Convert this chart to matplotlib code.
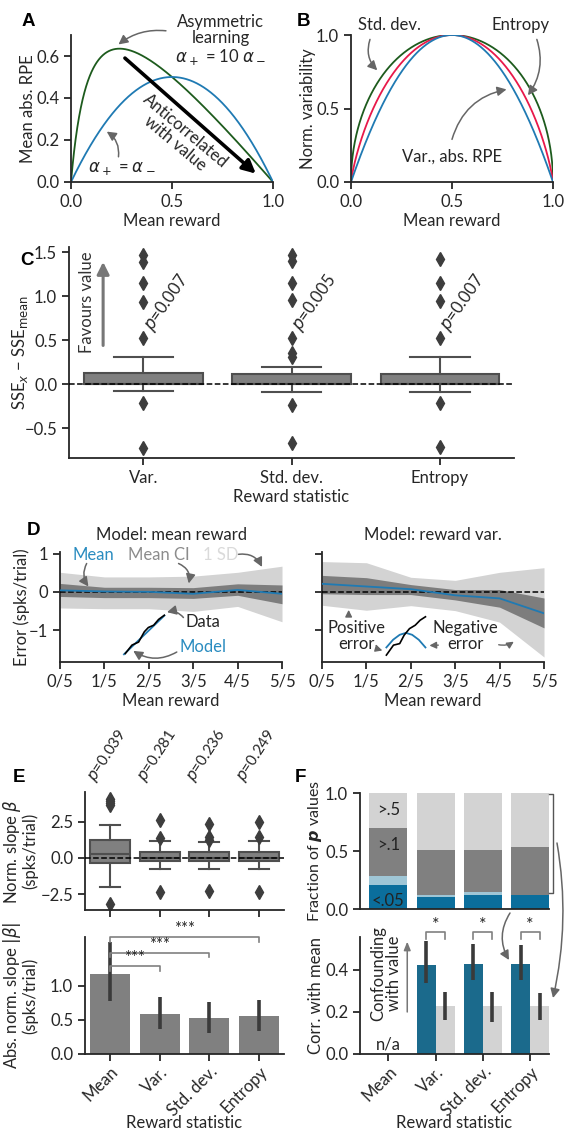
import numpy as np
import matplotlib
matplotlib.use("Agg")
import matplotlib.pyplot as plt
from matplotlib.patches import FancyArrowPatch

# ---------------------------------------------------------------- data
# A/B: Bernoulli reward model
reward_grid = np.linspace(0.0, 1.0, 801)
asym_ratio = 10.0  # alpha_plus / alpha_minus for the asymmetric learner

# C: SSE difference per reward statistic (box summaries)
c_labels = ["Var.", "Std. dev.", "Entropy"]
c_q1 = [0.0, 0.0, 0.0]
c_med = [0.0, 0.0, 0.0]
c_q3 = [0.13, 0.12, 0.12]
c_whislo = [-0.076, -0.087, -0.087]
c_whishi = [0.31, 0.20, 0.31]
c_fliers = [[1.47, 1.39, 1.15, 0.93, 0.52, -0.21, -0.73],
            [1.47, 1.40, 1.15, 0.96, 0.53, 0.35, 0.31, -0.24, -0.67],
            [1.42, 1.15, 0.95, 0.53, -0.22, -0.71]]
c_pvals = ["0.007", "0.005", "0.007"]

# D: prediction error vs mean reward
d_ticks = ["0/5", "1/5", "2/5", "3/5", "4/5", "5/5"]
dm_mean = [0.04, 0.01, 0.0, -0.05, 0.05, -0.05]
dm_ci_lo = [-0.12, -0.15, -0.15, -0.17, -0.09, -0.31]
dm_ci_hi = [0.22, 0.12, 0.12, 0.11, 0.21, 0.18]
dm_sd_lo = [-0.42, -0.44, -0.44, -0.51, -0.38, -0.78]
dm_sd_hi = [0.51, 0.39, 0.39, 0.41, 0.51, 0.67]

dv_mean = [0.21, 0.14, 0.07, -0.09, -0.17, -0.56]
dv_ci_lo = [-0.05, -0.07, -0.07, -0.21, -0.40, -0.94]
dv_ci_hi = [0.43, 0.37, 0.19, 0.06, 0.06, -0.16]
dv_sd_lo = [-0.35, -0.48, -0.36, -0.49, -0.79, -1.70]
dv_sd_hi = [0.79, 0.76, 0.38, 0.30, 0.51, 0.63]

# D: schematic glyphs (data vs. model)
sk1_data_x = [1.47, 1.62, 1.77, 1.90, 1.99, 2.11, 2.22, 2.35]
sk1_data_y = [-1.61, -1.39, -1.31, -1.04, -0.93, -0.87, -0.72, -0.61]
sk1_model_x = [1.44, 2.35]
sk1_model_y = [-1.63, -0.62]
sk2_data_x = [1.45, 1.61, 1.75, 1.85, 1.97, 2.10, 2.21, 2.33]
sk2_data_y = [-1.65, -1.39, -1.35, -1.13, -0.96, -0.87, -0.74, -0.65]
sk2_model_x = [1.45, 1.60, 1.75, 1.89, 2.03, 2.18, 2.33]
sk2_model_y = [-1.45, -1.25, -1.12, -1.07, -1.12, -1.25, -1.45]

# E: normalised slopes
stats4 = ["Mean", "Var.", "Std. dev.", "Entropy"]
e_q1 = [-0.32, -0.21, -0.21, -0.21]
e_med = [0.28, 0.0, 0.0, 0.0]
e_q3 = [1.26, 0.44, 0.39, 0.41]
e_whislo = [-2.04, -0.78, -0.76, -0.78]
e_whishi = [2.32, 1.19, 1.12, 1.19]
e_fliers = [[4.10, 3.95, 3.80, 3.70, -3.19],
            [2.66, 1.42, -2.39],
            [2.34, 1.47, 1.28, -2.27],
            [2.48, 1.47, -2.34]]
e_pvals = ["0.039", "0.281", "0.236", "0.249"]

e_abs = [1.18, 0.585, 0.535, 0.56]
e_abs_lo = [0.78, 0.37, 0.315, 0.335]
e_abs_hi = [1.64, 0.84, 0.77, 0.80]
e_sig_pairs = [(0, 1), (0, 2), (0, 3)]
e_sig_levels = [1.29, 1.49, 1.72]

# F: fraction of p values per bin
frac_lt05 = [0.21, 0.10, 0.125, 0.125]
frac_05_1 = [0.075, 0.025, 0.025, 0.0]
frac_1_5 = [0.415, 0.385, 0.36, 0.41]
frac_gt5 = [0.30, 0.49, 0.49, 0.465]
frac_names = ["<.05", None, ">.1", ">.5"]

# F: correlation with mean (statistic vs. control), Mean is n/a
f_corr_stat = [0.425, 0.43, 0.43]
f_corr_stat_lo = [0.338, 0.35, 0.354]
f_corr_stat_hi = [0.537, 0.525, 0.52]
f_corr_ctrl = [0.227, 0.227, 0.227]
f_corr_ctrl_lo = [0.16, 0.151, 0.16]
f_corr_ctrl_hi = [0.295, 0.294, 0.29]

# ---------------------------------------------------------------- style
plt.rcParams["font.family"] = ["Lato", "DejaVu Sans"]
plt.rcParams["font.size"] = 12
plt.rcParams["axes.linewidth"] = 1.3
plt.rcParams["axes.edgecolor"] = "#262626"
plt.rcParams["axes.spines.top"] = False
plt.rcParams["axes.spines.right"] = False
plt.rcParams["xtick.major.width"] = 1.3
plt.rcParams["ytick.major.width"] = 1.3
plt.rcParams["xtick.major.size"] = 5
plt.rcParams["ytick.major.size"] = 5
plt.rcParams["xtick.color"] = "#262626"
plt.rcParams["ytick.color"] = "#262626"
plt.rcParams["text.color"] = "#262626"
plt.rcParams["axes.labelcolor"] = "#262626"
plt.rcParams["axes.labelpad"] = 2
plt.rcParams["axes.unicode_minus"] = True

BLUE = "#1f7ab3"
GREEN = "#1d5b1d"
RED = "#e8194a"
GRAY = "#808080"
LGRAY = "#d3d3d3"
ARROW = "#666666"
DBLUE = "#0b6e9c"
LBLUE = "#9fc6d6"
BBLUE = "#1b6a8c"

W, H = 566, 1137
fig = plt.figure(figsize=(W / 100, H / 100), dpi=100)


def rect(l, r, t, b):
    return [l / W, 1 - b / H, (r - l) / W, (b - t) / H]


def fpx(x, y):
    return (x / W, 1 - y / H)


def curved(ax, start, end, rad, color=ARROW, lw=1.1, head=(0.55, 0.28)):
    ax.annotate("", xy=end, xytext=start, annotation_clip=False,
                arrowprops=dict(arrowstyle=f"-|>,head_length={head[0]},head_width={head[1]}",
                                color=color, lw=lw, shrinkA=0, shrinkB=0,
                                mutation_scale=10,
                                connectionstyle=f"arc3,rad={rad}"))


def panel_label(x, y, s):
    fig.text(x / W, 1 - y / H, s, fontsize=13.5, fontweight="bold",
             family=["Liberation Sans", "DejaVu Sans"], color="black",
             ha="left", va="top")


def place_labels(ax, ylab_right_px=None, xlab_top_px=None):
    """Put the axis labels at fixed pixel offsets from the axes frame."""
    l, b, w, h = ax.get_position().bounds
    left_px, w_px = l * W, w * W
    bottom_px, h_px = (1 - b) * H, h * H
    if ylab_right_px is not None:
        ax.yaxis.set_label_coords(-(left_px - ylab_right_px) / w_px, 0.5)
    if xlab_top_px is not None:
        ax.xaxis.set_label_coords(0.5, -(xlab_top_px - bottom_px) / h_px)


box_kw = dict(patch_artist=True, widths=0.8,
              boxprops=dict(facecolor="#808080", edgecolor="#4f4f4f", lw=1.5),
              whiskerprops=dict(color="#4f4f4f", lw=1.5),
              capprops=dict(color="#4f4f4f", lw=1.5),
              medianprops=dict(color="#4f4f4f", lw=1.5),
              flierprops=dict(marker="d", markerfacecolor="#3d3d3d",
                              markeredgecolor="#3d3d3d", markersize=7.5))


def box_stats(q1, med, q3, lo, hi, fl):
    return [dict(q1=a, med=b, q3=c, whislo=d, whishi=e, fliers=np.array(f))
            for a, b, c, d, e, f in zip(q1, med, q3, lo, hi, fl)]


# ---------------------------------------------------------------- A
axA = fig.add_axes(rect(71, 273, 35, 182))
p = reward_grid
v_sym = p
rpe_sym = p * (1 - v_sym) + (1 - p) * v_sym
v_asym = asym_ratio * p / (asym_ratio * p + (1 - p))
rpe_asym = p * (1 - v_asym) + (1 - p) * v_asym
axA.plot(p, rpe_asym, color=GREEN, lw=1.3)
axA.plot(p, rpe_sym, color=BLUE, lw=1.3)
axA.set_xlim(0, 1)
axA.set_ylim(0, 0.7)
axA.set_xticks([0, 0.5, 1.0])
axA.set_yticks([0, 0.2, 0.4, 0.6])
axA.set_xlabel("Mean reward")
axA.set_ylabel("Mean abs. RPE")
place_labels(axA, 36, None)
axA.text(0.74, 0.675, "Asymmetric\nlearning\n$\\alpha_+$ = 10 $\\alpha_-$",
         ha="center", va="center", linespacing=1.05, clip_on=False)
curved(axA, (0.47, 0.72), (0.235, 0.655), 0.2)
axA.text(0.25, 0.065, "$\\alpha_+$ = $\\alpha_-$", ha="center", va="center")
curved(axA, (0.235, 0.12), (0.177, 0.24), 0.3)
axA.annotate("", xy=(0.915, 0.04), xytext=(0.267, 0.59),
             arrowprops=dict(arrowstyle="-|>,head_length=0.6,head_width=0.3",
                             color="black", lw=2.6, mutation_scale=13,
                             shrinkA=0, shrinkB=0))
axA.text(0.54, 0.215, "Anticorrelated\nwith value", rotation=-40,
         ha="center", va="center", rotation_mode="anchor", linespacing=1.0)

# ---------------------------------------------------------------- B
axB = fig.add_axes(rect(351, 553, 35, 182))
pq = p * (1 - p)
var_norm = pq / 0.25
std_norm = np.sqrt(pq) / 0.5
with np.errstate(divide="ignore", invalid="ignore"):
    ent = -(np.where(p > 0, p * np.log2(p), 0.0)
            + np.where(p < 1, (1 - p) * np.log2(1 - p), 0.0))
axB.plot(p, std_norm, color=GREEN, lw=1.3)
axB.plot(p, ent, color=RED, lw=1.3)
axB.plot(p, var_norm, color=BLUE, lw=1.3)
axB.set_xlim(0, 1)
axB.set_ylim(0, 1.0)
axB.set_xticks([0, 0.5, 1.0])
axB.set_yticks([0, 0.5, 1.0])
axB.set_xlabel("Mean reward")
axB.set_ylabel("Norm. variability")
place_labels(axB, 316, None)
axB.text(0.19, 1.07, "Std. dev.", ha="center", va="center", clip_on=False)
curved(axB, (0.094, 0.97), (0.13, 0.76), 0.3)
axB.text(0.84, 1.07, "Entropy", ha="center", va="center", clip_on=False)
curved(axB, (0.92, 0.97), (0.876, 0.59), -0.25)
axB.text(0.5, 0.17, "Var., abs. RPE", ha="center", va="center")
curved(axB, (0.5, 0.29), (0.77, 0.63), -0.3)

# ---------------------------------------------------------------- C
axC = fig.add_axes(rect(69, 514, 247, 458))
axC.bxp(box_stats(c_q1, c_med, c_q3, c_whislo, c_whishi, c_fliers),
        positions=range(len(c_labels)), **box_kw)
axC.axhline(0, color="black", ls="--", lw=1.1, zorder=5)
axC.set_xlim(-0.5, 2.5)
axC.set_ylim(-0.84, 1.56)
axC.set_xticks(range(len(c_labels)))
axC.set_xticklabels(c_labels)
axC.set_yticks([-0.5, 0, 0.5, 1.0, 1.5])
axC.set_xlabel("Reward statistic")
axC.set_ylabel("SSE$_x$ \u2212 SSE$_\\mathrm{mean}$")
place_labels(axC, 30, None)
for i, pv in enumerate(c_pvals):
    axC.text(i + 0.09, 0.56, f"$p$={pv}", rotation=55, ha="left", va="bottom",
             rotation_mode="anchor")
axC.annotate("", xy=(-0.27, 1.39), xytext=(-0.27, 0.44),
             arrowprops=dict(arrowstyle="-|>,head_length=0.6,head_width=0.3",
                             color="#777777", lw=2.2, mutation_scale=12,
                             shrinkA=0, shrinkB=0))
axC.text(-0.38, 0.93, "Favours value", rotation=90, ha="center", va="center",
         color="#333333")


# ---------------------------------------------------------------- D
def err_panel(ax, mean, ci_lo, ci_hi, sd_lo, sd_hi):
    x = np.arange(len(d_ticks))
    ax.fill_between(x, sd_lo, sd_hi, color=LGRAY, lw=0)
    ax.fill_between(x, ci_lo, ci_hi, color="#7d7d7d", lw=0)
    ax.axhline(0, color="black", ls="--", lw=1.1, zorder=3)
    ax.plot(x, mean, color=BLUE, lw=1.3, zorder=4)
    ax.set_xlim(0, len(d_ticks) - 1)
    ax.set_ylim(-1.83, 1.04)
    ax.set_xticks(x)
    ax.set_xticklabels(d_ticks)
    ax.set_yticks([-1, 0, 1])
    ax.set_xlabel("Mean reward")


axD1 = fig.add_axes(rect(60, 282, 552, 662))
err_panel(axD1, dm_mean, dm_ci_lo, dm_ci_hi, dm_sd_lo, dm_sd_hi)
axD1.set_yticklabels(["\u22121", "0", "1"])
axD1.set_ylabel("Error (spks/trial)")
place_labels(axD1, 30, None)
axD1.set_title("Model: mean reward", fontsize=12, pad=9)
axD1.text(0.75, 0.96, "Mean", color="#2a8cc0", ha="center", va="center")
axD1.text(2.22, 0.96, "Mean CI", color="#8c8c8c", ha="center", va="center")
axD1.text(3.61, 0.96, "1 SD", color="#dadada", ha="center", va="center")
curved(axD1, (0.6, 0.74), (0.64, 0.14), 0.3)
curved(axD1, (2.67, 0.74), (2.9, 0.22), -0.4)
curved(axD1, (4.02, 0.98), (4.55, 0.65), -0.35)
axD1.plot(sk1_model_x, sk1_model_y, color=BLUE, lw=1.3)
axD1.plot(sk1_data_x, sk1_data_y, color="black", lw=1.2)
axD1.text(3.23, -0.79, "Data", ha="center", va="center")
axD1.text(3.22, -1.43, "Model", color="#2a8cc0", ha="center", va="center")
curved(axD1, (2.78, -0.67), (2.41, -0.53), 0.3)
curved(axD1, (2.63, -1.57), (1.65, -1.54), -0.3)

axD2 = fig.add_axes(rect(322, 544, 552, 662))
err_panel(axD2, dv_mean, dv_ci_lo, dv_ci_hi, dv_sd_lo, dv_sd_hi)
axD2.set_yticklabels([])
axD2.set_title("Model: reward var.", fontsize=12, pad=9)
axD2.plot(sk2_model_x, sk2_model_y, color=BLUE, lw=1.3)
axD2.plot(sk2_data_x, sk2_data_y, color="black", lw=1.2)
axD2.text(0.77, -1.15, "Positive\nerror", ha="center", va="center",
          linespacing=1.05)
axD2.text(3.23, -1.15, "Negative\nerror", ha="center", va="center",
          linespacing=1.05)
curved(axD2, (0.6, -0.62), (0.6, -0.47), 0.0, lw=1.0, head=(0.4, 0.2))
curved(axD2, (1.22, -1.40), (1.36, -1.53), 0.2, lw=1.0, head=(0.4, 0.2))
curved(axD2, (2.62, -1.39), (2.42, -1.40), 0.0, lw=1.0, head=(0.4, 0.2))
curved(axD2, (3.98, -1.38), (4.32, -1.30), 0.2, lw=1.0, head=(0.4, 0.2))

# ---------------------------------------------------------------- E
axE1 = fig.add_axes(rect(85, 284, 792, 910))
axE1.bxp(box_stats(e_q1, e_med, e_q3, e_whislo, e_whishi, e_fliers),
         positions=range(len(stats4)), **box_kw)
axE1.axhline(0, color="black", ls="--", lw=1.1, zorder=5)
axE1.set_xlim(-0.5, 3.5)
axE1.set_ylim(-3.61, 4.58)
axE1.set_xticks(range(len(stats4)))
axE1.set_xticklabels([])
axE1.set_yticks([-2.5, 0, 2.5])
axE1.set_ylabel("Norm. slope $\\beta$\n(spks/trial)", linespacing=0.9)
place_labels(axE1, 38, None)
for i, pv in enumerate(e_pvals):
    axE1.text(i - 0.22, 5.1, f"$p$={pv}", rotation=57, ha="left", va="bottom",
              rotation_mode="anchor", clip_on=False, fontsize=11)

axE2 = fig.add_axes(rect(85, 284, 937, 1054))
xe = np.arange(len(stats4))
yerr = [np.array(e_abs) - np.array(e_abs_lo), np.array(e_abs_hi) - np.array(e_abs)]
axE2.bar(xe, e_abs, width=0.8, color=GRAY)
axE2.errorbar(xe, e_abs, yerr=yerr, fmt="none", ecolor="#3a3a3a", elinewidth=2.6,
              capsize=0)
axE2.set_xlim(-0.5, 3.5)
axE2.set_ylim(0, 1.72)
axE2.set_yticks([0, 0.5, 1.0])
axE2.set_xticks(xe)
axE2.set_xticklabels(stats4, rotation=45, ha="right", rotation_mode="anchor")
axE2.tick_params(axis="x", pad=2)
axE2.set_xlabel("Reward statistic")
axE2.set_ylabel("Abs. norm. slope $|\\beta|$\n(spks/trial)", linespacing=0.9)
place_labels(axE2, 38, 1115)
for (a, b), h in zip(e_sig_pairs, e_sig_levels):
    axE2.plot([a, a, b, b], [h - 0.07, h, h, h - 0.07], color="#808080", lw=1.2,
              clip_on=False)
    axE2.text((a + b) / 2, h + 0.0, "***", ha="center", va="bottom", fontsize=12)

# ---------------------------------------------------------------- F
axF1 = fig.add_axes(rect(360, 549, 793, 909))
bins = [frac_lt05, frac_05_1, frac_1_5, frac_gt5]
bin_colors = [DBLUE, LBLUE, GRAY, LGRAY]
cum = np.zeros(len(stats4))
for vals, col, name in zip(bins, bin_colors, frac_names):
    axF1.bar(xe, vals, bottom=cum, width=0.8, color=col, lw=0)
    if name is not None:
        axF1.text(0, cum[0] + vals[0] / 2 - (0.04 if name == "<.05" else 0)
                  + (0.06 if name == ">.1" else 0),
                  name, ha="center", va="center", color="#222222")
    cum = cum + np.array(vals)
axF1.set_xlim(-0.6, 3.4)
axF1.set_ylim(0, 1.0)
axF1.set_yticks([0, 0.5, 1.0])
axF1.set_xticks([])
axF1.set_ylabel("Fraction of $\\boldsymbol{p}$ values", fontsize=11.5)
place_labels(axF1, 324, None)
brk = axF1.get_yaxis_transform()
axF1.plot([1.0, 1.022, 1.022, 1.0], [0.995, 0.995, 0.137, 0.137], color="#555555",
          lw=1.0, transform=brk, clip_on=False)

axF2 = fig.add_axes(rect(360, 549, 937, 1054))
xs = np.arange(1, len(stats4))
err_s = [np.array(f_corr_stat) - np.array(f_corr_stat_lo),
         np.array(f_corr_stat_hi) - np.array(f_corr_stat)]
err_c = [np.array(f_corr_ctrl) - np.array(f_corr_ctrl_lo),
         np.array(f_corr_ctrl_hi) - np.array(f_corr_ctrl)]
axF2.bar(xs - 0.2, f_corr_stat, width=0.4, color=BBLUE, lw=0)
axF2.bar(xs + 0.2, f_corr_ctrl, width=0.4, color=LGRAY, lw=0)
axF2.errorbar(xs - 0.2, f_corr_stat, yerr=err_s, fmt="none", ecolor="#3a3a3a",
              elinewidth=2.6, capsize=0)
axF2.errorbar(xs + 0.2, f_corr_ctrl, yerr=err_c, fmt="none", ecolor="#3a3a3a",
              elinewidth=2.6, capsize=0)
for c in xs:
    axF2.plot([c - 0.2, c - 0.2, c + 0.2, c + 0.2], [0.548, 0.58, 0.58, 0.548],
              color="#808080", lw=1.2, clip_on=False)
    axF2.text(c, 0.578, "*", ha="center", va="bottom", fontsize=13)
axF2.text(0, 0.045, "n/a", ha="center", va="center")
axF2.text(-0.05, 0.385, "Confounding\nwith value", rotation=90, ha="center",
          va="center", linespacing=1.0)
axF2.annotate("", xy=(0.4, 0.535), xytext=(0.4, 0.2),
              arrowprops=dict(arrowstyle="-|>,head_length=0.5,head_width=0.2",
                              color="#777777", lw=1.1, mutation_scale=10,
                              shrinkA=0, shrinkB=0))
axF2.set_xlim(-0.6, 3.4)
axF2.set_ylim(0, 0.557)
axF2.set_yticks([0, 0.2, 0.4])
axF2.set_xticks(xe)
axF2.set_xticklabels(stats4, rotation=45, ha="right", rotation_mode="anchor")
axF2.tick_params(axis="x", pad=2)
axF2.set_xlabel("Reward statistic")
axF2.set_ylabel("Corr. with mean")
place_labels(axF2, 324, 1115)

# arrows linking the p-value panel to the correlation panel
for start, end, rad in [((557, 843), (553, 998), -0.1),
                        ((510, 913), (509, 960), 0.3)]:
    fig.add_artist(FancyArrowPatch(fpx(*start), fpx(*end), transform=fig.transFigure,
                                   arrowstyle="-|>,head_length=0.55,head_width=0.28",
                                   mutation_scale=10, color=ARROW, lw=1.1,
                                   connectionstyle=f"arc3,rad={rad}",
                                   shrinkA=0, shrinkB=0))

# ---------------------------------------------------------------- labels
panel_label(22, 13, "A")
panel_label(297, 13, "B")
panel_label(20, 252, "C")
panel_label(27, 522, "D")
panel_label(13, 769, "E")
panel_label(295, 769, "F")

fig.savefig("out.png", dpi=100)
